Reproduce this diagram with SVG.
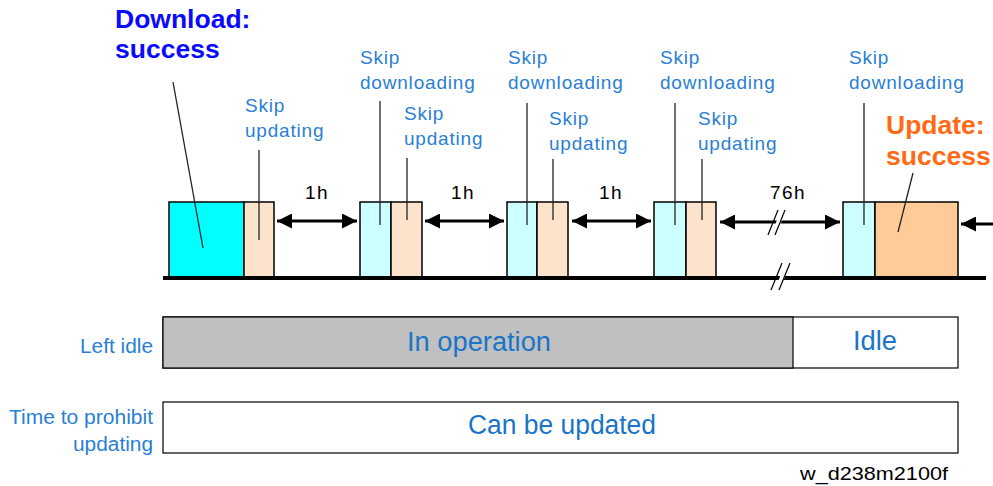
<svg xmlns="http://www.w3.org/2000/svg" width="993" height="486" viewBox="0 0 993 486">
<defs>
<style>
.lbl{font-family:"Liberation Sans",Arial,sans-serif;font-size:19px;letter-spacing:0.8px;fill:#2a7fd4}
.big{font-family:"Liberation Sans",Arial,sans-serif;font-size:26.5px;font-weight:bold}
.bar{font-family:"Liberation Sans",Arial,sans-serif;font-size:27px;fill:#1a75c8;text-anchor:middle}
.side{font-family:"Liberation Sans",Arial,sans-serif;font-size:20px;fill:#2a7fd4;text-anchor:end}
.hr{font-family:"Liberation Sans",Arial,sans-serif;font-size:19px;letter-spacing:1.5px;fill:#000;text-anchor:middle}
.box{stroke:#000;stroke-width:1.5}
.lead{stroke:#222;stroke-width:1.3;fill:none}
.arr{stroke:#000;stroke-width:3;fill:none}
.brk{stroke:#000;stroke-width:1.2;fill:none}
</style>
<marker id="ah" viewBox="0 0 10 10" refX="10" refY="5" markerWidth="5" markerHeight="5" orient="auto-start-reverse" markerUnits="strokeWidth">
<path d="M0,0 L10,5 L0,10 z" fill="#000"/>
</marker>
</defs>
<rect width="993" height="486" fill="#fff"/>

<g id="download-success">
<rect class="box" x="169" y="202" width="75" height="75" fill="#00ffff"/>
<text class="big" x="115" y="28" fill="#0a0aff">Download:</text>
<text class="big" x="115" y="58" fill="#0a0aff">success</text>
</g>
<g id="skip-update-1">
<rect class="box" x="244" y="202" width="30" height="75" fill="#fde3cc"/>
<text class="lbl" x="245" y="112">Skip</text>
<text class="lbl" x="245" y="137">updating</text>
</g>
<g id="check-2">
<rect class="box" x="360" y="202" width="31" height="75" fill="#ccffff"/>
<rect class="box" x="391" y="202" width="31" height="75" fill="#fde3cc"/>
<text class="lbl" x="360" y="64">Skip</text>
<text class="lbl" x="360" y="89">downloading</text>
<text class="lbl" x="404" y="120">Skip</text>
<text class="lbl" x="404" y="145">updating</text>
</g>
<g id="check-3">
<rect class="box" x="507" y="202" width="30" height="75" fill="#ccffff"/>
<rect class="box" x="537" y="202" width="31" height="75" fill="#fde3cc"/>
<text class="lbl" x="508" y="64">Skip</text>
<text class="lbl" x="508" y="89">downloading</text>
<text class="lbl" x="549" y="125">Skip</text>
<text class="lbl" x="549" y="150">updating</text>
</g>
<g id="check-4">
<rect class="box" x="654" y="202" width="32" height="75" fill="#ccffff"/>
<rect class="box" x="686" y="202" width="30" height="75" fill="#fde3cc"/>
<text class="lbl" x="660" y="64">Skip</text>
<text class="lbl" x="660" y="89">downloading</text>
<text class="lbl" x="698" y="125">Skip</text>
<text class="lbl" x="698" y="150">updating</text>
</g>
<g id="update-success">
<rect class="box" x="843" y="202" width="32" height="75" fill="#ccffff"/>
<rect class="box" x="875" y="202" width="83" height="75" fill="#ffcc99"/>
<text class="lbl" x="849" y="64">Skip</text>
<text class="lbl" x="849" y="89">downloading</text>
<text class="big" x="886" y="134" fill="#ff6a14">Update:</text>
<text class="big" x="886" y="165" fill="#ff6a14">success</text>
</g>

<g id="connectors">
<line x1="163" y1="278" x2="986" y2="278" stroke="#000" stroke-width="4"/>
<line class="lead" x1="173" y1="82" x2="203" y2="248"/>
<line class="lead" x1="259" y1="150" x2="259" y2="240"/>
<line class="lead" x1="380" y1="101" x2="380" y2="225"/>
<line class="lead" x1="407" y1="158" x2="407" y2="220"/>
<line class="lead" x1="527" y1="103" x2="527" y2="225"/>
<line class="lead" x1="553" y1="159" x2="553" y2="220"/>
<line class="lead" x1="675" y1="103" x2="675" y2="225"/>
<line class="lead" x1="702" y1="159" x2="702" y2="220"/>
<line class="lead" x1="864" y1="103" x2="864" y2="225"/>
<line class="lead" x1="913" y1="173" x2="898" y2="232"/>
<line class="arr" x1="277" y1="221" x2="357" y2="221" marker-start="url(#ah)" marker-end="url(#ah)"/>
<line class="arr" x1="425" y1="221" x2="504" y2="221" marker-start="url(#ah)" marker-end="url(#ah)"/>
<line class="arr" x1="572" y1="221" x2="651" y2="221" marker-start="url(#ah)" marker-end="url(#ah)"/>
<line class="arr" x1="720" y1="222" x2="840" y2="222" marker-start="url(#ah)" marker-end="url(#ah)"/>
<line class="arr" x1="993" y1="224" x2="961" y2="224" marker-end="url(#ah)"/>
<polygon points="771,235 776,235 786,210 781,210" fill="#fff"/>
<line class="brk" x1="768" y1="235" x2="778" y2="210"/>
<line class="brk" x1="775" y1="235" x2="785" y2="210"/>
<polygon points="775,290 780,290 790,263 785,263" fill="#fff"/>
<line class="brk" x1="771" y1="290" x2="782" y2="263"/>
<line class="brk" x1="779" y1="290" x2="790" y2="263"/>
<text class="hr" x="317" y="199">1h</text>
<text class="hr" x="463" y="199">1h</text>
<text class="hr" x="611" y="199">1h</text>
<text class="hr" x="788" y="199">76h</text>
</g>

<g id="left-idle">
<text class="side" x="153" y="353" textLength="73" lengthAdjust="spacingAndGlyphs">Left idle</text>
<rect x="163" y="317" width="795" height="51" fill="#fff" stroke="#000" stroke-width="1.2"/>
<rect x="163" y="317" width="630" height="51" fill="#c0c0c0" stroke="#000" stroke-width="1.2"/>
<text class="bar" x="479" y="351" textLength="144" lengthAdjust="spacingAndGlyphs">In operation</text>
<text class="bar" x="875" y="350" textLength="44" lengthAdjust="spacingAndGlyphs">Idle</text>
</g>
<g id="prohibit">
<text class="side" x="153" y="424" textLength="144" lengthAdjust="spacingAndGlyphs">Time to prohibit</text>
<text class="side" x="153" y="451" textLength="80" lengthAdjust="spacingAndGlyphs">updating</text>
<rect x="163" y="402" width="795" height="51" fill="#fff" stroke="#000" stroke-width="1.2"/>
<text class="bar" x="562" y="434" textLength="188" lengthAdjust="spacingAndGlyphs">Can be updated</text>
</g>
<text x="800" y="480" font-family="'Liberation Sans',Arial,sans-serif" font-size="19" fill="#000" textLength="148" lengthAdjust="spacingAndGlyphs">w_d238m2100f</text>
</svg>
